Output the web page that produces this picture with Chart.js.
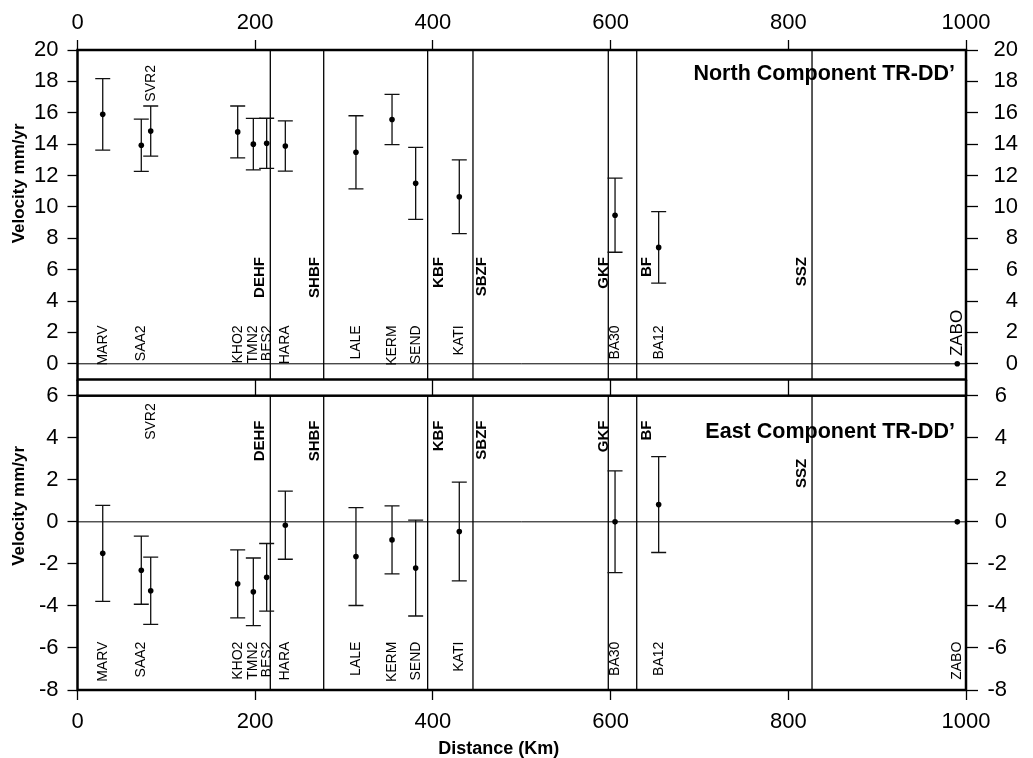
<!DOCTYPE html>
<html><head><meta charset="utf-8">
<script src="https://cdn.jsdelivr.net/npm/chart.js@4/dist/chart.umd.min.js"></script>
<style>
html,body{margin:0;padding:0;background:#fff;}
#wrap{position:relative;width:1033px;height:758px;overflow:hidden;background:#fff}
canvas{position:absolute;left:0;top:0}
</style></head><body>
<div id="wrap"><canvas id="north" width="1033" height="758"></canvas><canvas id="east" width="1033" height="758"></canvas></div>
<script>
// ---------------- data ----------------
const stations   = ['MARV','SAA2','SVR2','KHO2','TMN2','BES2','HARA','LALE','KERM','SEND','KATI','BA30','BA12','ZABO'];
const distanceKm = [28.4, 71.8, 82.4, 180.3, 197.9, 212.9, 233.9, 313.4, 354.0, 380.6, 429.7, 605.0, 654.1, 990.2];
const northVel   = [15.9, 13.93, 14.83, 14.78, 14.0, 14.05, 13.88, 13.48, 15.57, 11.5, 10.65, 9.47, 7.42, 0];
const northErr   = [2.28, 1.67, 1.6, 1.65, 1.64, 1.6, 1.6, 2.33, 1.6, 2.3, 2.35, 2.36, 2.28, 0];
const eastVel    = [-1.5, -2.3, -3.28, -2.95, -3.33, -2.64, -0.16, -1.65, -0.86, -2.2, -0.46, 0.0, 0.82, 0];
const eastErr    = [2.28, 1.62, 1.6, 1.62, 1.61, 1.61, 1.62, 2.33, 1.62, 2.28, 2.35, 2.42, 2.28, 0];
const faults     = ['DEHF','SHBF','KBF','SBZF','GKF','BF','SSZ'];
const faultKm    = [217.0, 277.1, 394.1, 445.1, 597.4, 629.4, 826.7];
const xTicks     = [0, 200, 400, 600, 800, 1000];
const northTicks = [0, 2, 4, 6, 8, 10, 12, 14, 16, 18, 20];
const eastTicks  = [-8, -6, -4, -2, 0, 2, 4, 6];

// ---------------- styling / layout ----------------
const FONT = "'Liberation Sans', Arial, Helvetica, sans-serif";
const FAULT_SIDE = {DEHF:-10, SHBF:-9, KBF:11, SBZF:9, GKF:-4, BF:10.5, SSZ:-10};

function tickSet(arr){ return s => { s.ticks = arr.map(v => ({value:v})); }; }

function panelPlugin(p){
  return {
    id: 'panel_' + p.name,
    beforeDatasetsDraw(chart){
      const {ctx, chartArea:a, scales} = chart;
      const x = scales.x, y = scales.y;
      ctx.save();
      ctx.strokeStyle = '#000';
      // zero line
      ctx.lineWidth = 1;
      const y0 = y.getPixelForValue(0);
      ctx.beginPath(); ctx.moveTo(a.left, y0); ctx.lineTo(a.right, y0); ctx.stroke();
      // fault lines
      ctx.lineWidth = 1.3;
      faultKm.forEach(k => {
        const px = x.getPixelForValue(k);
        ctx.beginPath(); ctx.moveTo(px, a.top); ctx.lineTo(px, a.bottom); ctx.stroke();
      });
      // error bars
      ctx.strokeStyle = '#111';
      ctx.lineWidth = 1.3;
      distanceKm.forEach((k, i) => {
        const e = p.err[i]; if (!e) return;
        const px = x.getPixelForValue(k);
        const t = y.getPixelForValue(p.vel[i] + e), b = y.getPixelForValue(p.vel[i] - e);
        ctx.beginPath();
        ctx.moveTo(px, t); ctx.lineTo(px, b);
        ctx.moveTo(px - 7.5, t); ctx.lineTo(px + 7.5, t);
        ctx.moveTo(px - 7.5, b); ctx.lineTo(px + 7.5, b);
        ctx.stroke();
      });
      ctx.restore();
    },
    afterDatasetsDraw(chart){
      const {ctx, chartArea:a, scales} = chart;
      const x = scales.x, y = scales.y;
      ctx.save();
      ctx.fillStyle = '#000';
      const vtext = (txt, px, py, font) => {
        ctx.save(); ctx.translate(px, py); ctx.rotate(-Math.PI/2);
        ctx.font = font; ctx.textAlign = 'right'; ctx.textBaseline = 'middle';
        ctx.fillText(txt, 0, 0); ctx.restore();
      };
      // station labels
      stations.forEach((s, i) => {
        const top = (s in p.stationSpecial) ? p.stationSpecial[s] : p.stationTop;
        const size = (s in p.stationSize) ? p.stationSize[s] : 14;
        vtext(s, x.getPixelForValue(distanceKm[i]), y.getPixelForValue(top), size + 'px ' + FONT);
      });
      // fault labels
      faults.forEach((f, i) => {
        const top = (f in p.faultSpecial) ? p.faultSpecial[f] : p.faultTop;
        vtext(f, x.getPixelForValue(faultKm[i]) + FAULT_SIDE[f], y.getPixelForValue(top), 'bold 15px ' + FONT);
      });
      // panel title
      ctx.font = 'bold 21.5px ' + FONT;
      ctx.textAlign = 'right'; ctx.textBaseline = 'middle';
      ctx.fillText(p.title, a.right - 11, a.top + p.titleDy);
      // y axis title
      ctx.save(); ctx.translate(19, y.getPixelForValue(p.yTitleAt)); ctx.rotate(-Math.PI/2);
      ctx.font = 'bold 17px ' + FONT; ctx.textAlign = 'center'; ctx.textBaseline = 'middle';
      ctx.fillText('Velocity mm/yr', 0, 0); ctx.restore();
      // x axis title (bottom panel only)
      if (p.xTitle) {
        ctx.font = 'bold 18px ' + FONT; ctx.textAlign = 'center'; ctx.textBaseline = 'middle';
        ctx.fillText(p.xTitle, x.getPixelForValue(474), 749);
      }
      // frame
      ctx.strokeStyle = '#000'; ctx.lineWidth = 2.5;
      ctx.strokeRect(a.left, a.top, a.right - a.left, a.bottom - a.top);
      if (scales.xt) {
        ctx.beginPath();
        ctx.moveTo(a.left, scales.xt.top); ctx.lineTo(a.left, a.top);
        ctx.moveTo(a.right, scales.xt.top); ctx.lineTo(a.right, a.top);
        ctx.stroke();
      }
      ctx.restore();
    }
  };
}

const gridOpts = (tl) => ({display:true, drawOnChartArea:false, drawTicks:true, tickLength:tl, tickColor:'#000', tickWidth:1.3, color:'#000'});
const tickFont = {family:FONT, size:22};
const lab = v => String(v);

// right axis labels are right-aligned at the outer edge of the right axis box
function yScales(min, max, ticksArr, rightWidth){
  return {
    y: {type:'linear', position:'left', min, max, afterBuildTicks: tickSet(ticksArr), afterFit: s => { s.width = 77.5; },
        grid: gridOpts(10), border:{display:false},
        ticks:{color:'#000', font:tickFont, padding:9, autoSkip:false, callback:lab}},
    y2:{type:'linear', position:'right', min, max, afterBuildTicks: tickSet(ticksArr), afterFit: s => { s.width = rightWidth; },
        grid: gridOpts(12), border:{display:false},
        ticks:{color:'#000', font:tickFont, padding:4, crossAlign:'far', autoSkip:false, callback:lab}}
  };
}

function pointsDataset(vel){
  return {data: distanceKm.map((k, i) => ({x:k, y:vel[i]})), pointRadius:2.8, pointBackgroundColor:'#000',
          pointBorderWidth:0, borderColor:'#000', showLine:false};
}

const common = {responsive:false, animation:false, devicePixelRatio:1, events:[],
  plugins:{legend:{display:false}, tooltip:{enabled:false}}};

// ---------------- North panel ----------------
new Chart(document.getElementById('north'), {
  type:'scatter',
  data:{datasets:[pointsDataset(northVel)]},
  options:Object.assign({}, common, {
    layout:{padding:{top:0, left:0, right:15, bottom:758 - 379.5}},
    scales:Object.assign({
      x:{type:'linear', position:'top', min:0, max:1000, afterBuildTicks: tickSet(xTicks), afterFit: s => { s.height = 50; },
         grid: gridOpts(10), border:{display:false},
         ticks:{color:'#000', font:tickFont, padding:4, maxRotation:0, autoSkip:false, callback:lab}}
    }, yScales(-1, 20, northTicks, 52))
  }),
  plugins:[panelPlugin({name:'north', vel:northVel, err:northErr, title:'North Component TR-DD\u2019', titleDy:24,
    stationTop:2.45, stationSpecial:{SVR2:19.04, ZABO:3.44}, stationSize:{ZABO:17},
    faultTop:6.8, faultSpecial:{}, yTitleAt:11.5})]
});

// ---------------- East panel ----------------
new Chart(document.getElementById('east'), {
  type:'scatter',
  data:{datasets:[pointsDataset(eastVel)]},
  options:Object.assign({}, common, {
    layout:{padding:{top:379.7, left:0, right:26, bottom:0}},
    scales:Object.assign({
      x:{type:'linear', position:'bottom', min:0, max:1000, afterBuildTicks: tickSet(xTicks), afterFit: s => { s.height = 68; },
         grid: gridOpts(10), border:{display:false},
         ticks:{color:'#000', font:tickFont, padding:8.5, maxRotation:0, autoSkip:false, callback:lab}},
      xt:{type:'linear', position:'top', min:0, max:1000, afterBuildTicks: tickSet(xTicks), afterFit: s => { s.height = 16; },
         grid: gridOpts(16), border:{display:false}, ticks:{display:false}}
    }, yScales(-8, 6, eastTicks, 41))
  }),
  plugins:[panelPlugin({name:'east', vel:eastVel, err:eastErr, title:'East Component TR-DD\u2019', titleDy:36,
    stationTop:-5.70, stationSpecial:{SVR2:5.64}, stationSize:{},
    faultTop:4.82, faultSpecial:{SSZ:3.0}, yTitleAt:0.76, xTitle:'Distance (Km)'})]
});
</script>
</body></html>
